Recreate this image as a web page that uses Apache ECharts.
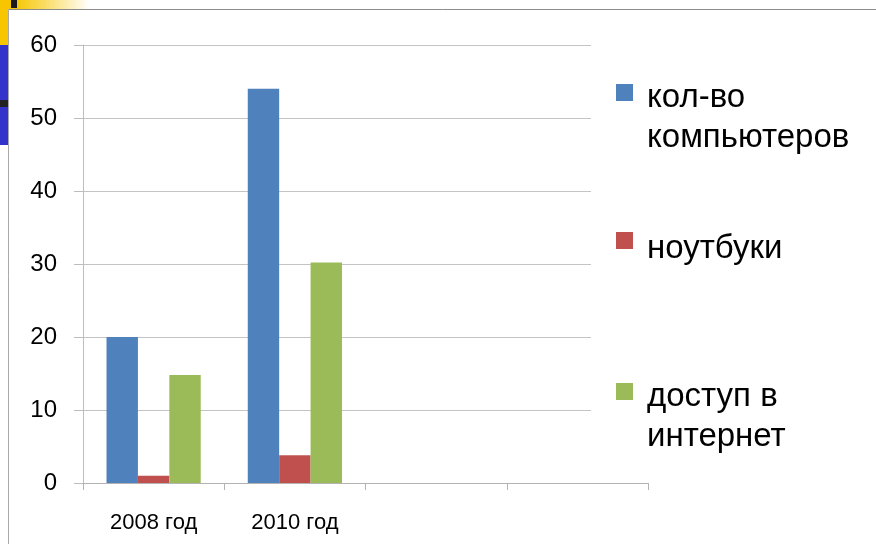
<!DOCTYPE html>
<html>
<head>
<meta charset="utf-8">
<script src="https://cdn.jsdelivr.net/npm/echarts@6/dist/echarts.min.js"></script>
<style>
  html, body { margin: 0; padding: 0; background: #fff; }
  #chart { width: 876px; height: 544px; }
</style>
</head>
<body>
<div id="chart"></div>
<script>
// categories on the x axis (last two are empty slots)
const categories = ['2008 год', '2010 год', '', '']
const seriesNames = ['кол-во компьютеров', 'ноутбуки', 'доступ в интернет']
const computers = [20, 54, null, null]
const laptops = [1, 3.8, null, null]
const internet = [14.8, 30.2, null, null]
const yMin = 0
const yMax = 60
const yStep = 10

const colors = ['#4F81BD', '#C0504D', '#9BBB59']
const FONT = 'Liberation Sans'

const chart = echarts.init(document.getElementById('chart'))

// one legend per entry so each can sit at its own height;
// a blank spacer line on top pushes the first text line level with the icon
const legendTops = [27.5, 212.5, 326.5]
const spacer = [50, 16, 50]
const legendText = (name) => {
  const i = name.lastIndexOf(' ')
  if (name.length < 12) return '{s|}\n{t|' + name + '}'
  return '{s|}\n{t|' + name.slice(0, i) + '}\n{t|' + name.slice(i + 1) + '}'
}
const legends = seriesNames.map((name, i) => ({
  data: [name],
  left: 616,
  top: legendTops[i],
  padding: 0,
  orient: 'vertical',
  itemWidth: 17,
  itemHeight: 17,
  icon: 'rect',
  selectedMode: false,
  formatter: legendText,
  textStyle: {
    fontFamily: FONT,
    fontSize: 33,
    color: '#000',
    padding: [0, 0, 0, 9],
    rich: {
      s: { height: spacer[i], lineHeight: spacer[i], fontSize: 10 },
      t: { fontFamily: FONT, fontSize: 33, lineHeight: 40, color: '#000' }
    }
  }
}))

const seriesData = [computers, laptops, internet]

chart.setOption({
  animation: false,
  backgroundColor: '#fff',
  grid: [
    // bars + category axis
    { left: 83, top: 45, width: 565, height: 438 },
    // value axis with its shorter grid lines
    { left: 83, top: 45, width: 508, height: 438 }
  ],
  xAxis: [
    {
      gridIndex: 0,
      type: 'category',
      data: categories,
      axisLine: { lineStyle: { color: '#b3b3b3', width: 1 } },
      axisTick: { show: true, length: 7, lineStyle: { color: '#b3b3b3' } },
      axisLabel: { fontFamily: FONT, fontSize: 22, color: '#000', margin: 29 }
    },
    { gridIndex: 1, type: 'value', show: false, min: 0, max: 1 }
  ],
  yAxis: [
    { gridIndex: 0, type: 'value', min: yMin, max: yMax, interval: yStep, show: false },
    {
      gridIndex: 1,
      type: 'value',
      min: yMin,
      max: yMax,
      interval: yStep,
      axisLine: { show: true, lineStyle: { color: '#bdbdbd' } },
      axisTick: { show: true, length: 9, lineStyle: { color: '#bdbdbd' } },
      splitLine: { show: true, lineStyle: { color: '#c4c4c4', width: 1 } },
      axisLabel: { fontFamily: FONT, fontSize: 24, color: '#000', margin: 26 }
    }
  ],
  legend: legends,
  series: seriesNames.map((name, i) => ({
    name,
    type: 'bar',
    xAxisIndex: 0,
    yAxisIndex: 0,
    data: seriesData[i],
    barGap: '0%',
    barCategoryGap: '33.3%',
    itemStyle: { color: colors[i] }
  })),
  graphic: [
    // slide decoration in the top-left corner
    {
      type: 'rect', left: 0, top: 0, z: 10,
      shape: { width: 90, height: 9 },
      style: {
        fill: new echarts.graphic.LinearGradient(0, 0, 1, 0, [
          { offset: 0, color: '#F5C400' },
          { offset: 0.2, color: '#F7C80A' },
          { offset: 1, color: '#ffffff' }
        ])
      }
    },
    { type: 'rect', left: 11, top: 0, z: 11, shape: { width: 6, height: 8 }, style: { fill: '#1a1a1a' } },
    { type: 'rect', left: 0, top: 0, z: 10, shape: { width: 8, height: 45 }, style: { fill: '#F7C600' } },
    { type: 'rect', left: 0, top: 45, z: 10, shape: { width: 8, height: 100 }, style: { fill: '#3333CC' } },
    { type: 'rect', left: 0, top: 100, z: 11, shape: { width: 8, height: 7 }, style: { fill: '#222222' } },
    // panel border
    { type: 'line', z: 12, shape: { x1: 8.5, y1: 9.5, x2: 876, y2: 9.5 }, style: { stroke: '#8c8c8c', lineWidth: 1 } },
    { type: 'line', z: 12, shape: { x1: 8.5, y1: 9.5, x2: 8.5, y2: 544 }, style: { stroke: '#a8a8a8', lineWidth: 1 } }
  ]
})
</script>
</body>
</html>
